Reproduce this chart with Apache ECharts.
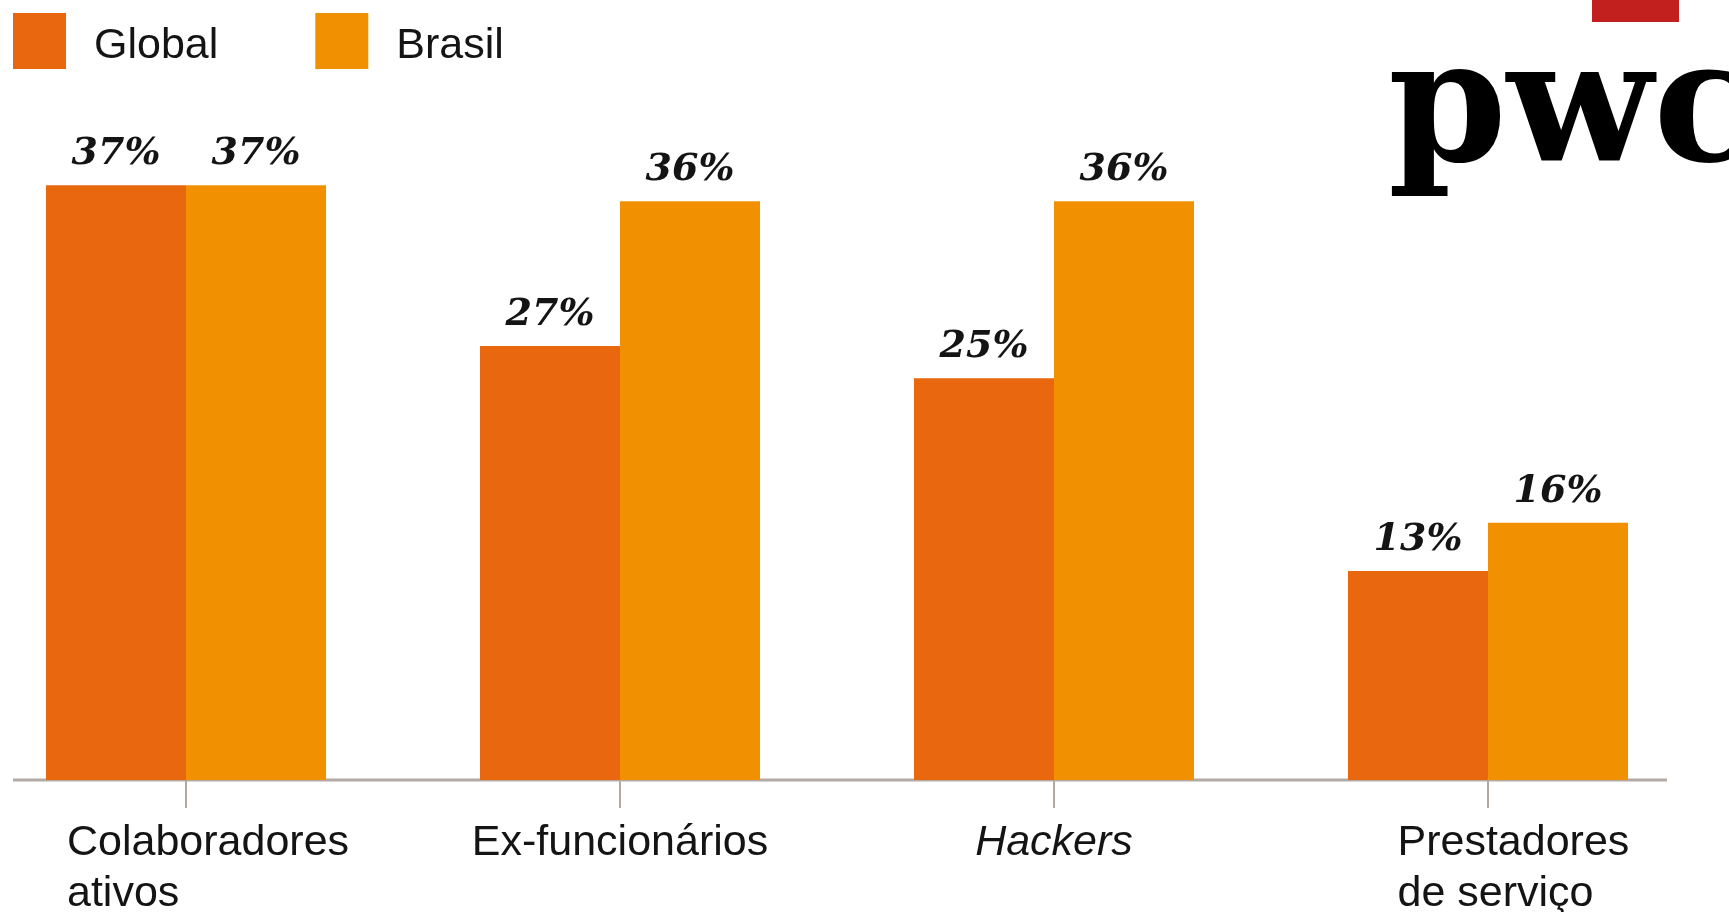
<!DOCTYPE html>
<html>
<head>
<meta charset="utf-8">
<script src="https://cdn.jsdelivr.net/npm/echarts@6/dist/echarts.min.js"></script>
<style>
  html, body { margin: 0; padding: 0; background: #fff; }
  #chart { width: 1729px; height: 912px; }
</style>
</head>
<body>
<div id="chart"></div>
<script>
// Who is behind the incidents: global vs Brazil (% of respondents)
const categories = ['Colaboradores\nativos', 'Ex-funcionários', 'Hackers', 'Prestadores\nde serviço'];
const globalValues = [37, 27, 25, 13];
const brasilValues = [37, 36, 36, 16];
const seriesNames = ['Global', 'Brasil'];

// rich-text style key per category label
const labelStyleKeys = ['c', 'n', 'h', 'p'];

const COLOR_GLOBAL = '#E9670E';
const COLOR_BRASIL = '#F19000';
const AXIS_GRAY = '#b3aaa3';
const TEXT_DARK = '#141414';

const chart = echarts.init(document.getElementById('chart'));

const valueLabel = {
  show: true,
  position: 'top',
  distance: 12,
  formatter: '{c}%',
  fontFamily: '"DejaVu Serif", serif',
  fontStyle: 'italic',
  fontWeight: 'bold',
  fontSize: 38,
  color: TEXT_DARK
};

const catFont = { fontSize: 43, lineHeight: 51, color: TEXT_DARK };

chart.setOption({
  animation: false,
  backgroundColor: '#ffffff',
  legend: {
    left: 13,
    top: 13,
    padding: 0,
    itemWidth: 53,
    itemHeight: 56,
    itemGap: 97,
    icon: 'rect',
    data: seriesNames,
    formatter: '{t|{name}}',
    textStyle: {
      fontFamily: '"Liberation Sans", Arial, sans-serif',
      fontSize: 43,
      color: TEXT_DARK,
      padding: [0, 0, 0, 23],
      rich: {
        t: {
          fontFamily: '"Liberation Sans", Arial, sans-serif',
          fontSize: 43,
          color: TEXT_DARK,
          padding: [10, 0, 0, 0]
        }
      }
    }
  },
  grid: {
    left: -31,
    right: 24,
    top: 137,
    bottom: 132,
    outerBoundsMode: 'none'
  },
  xAxis: {
    type: 'category',
    data: categories,
    axisLine: { show: false },
    axisTick: {
      show: true,
      alignWithLabel: true,
      length: 28,
      lineStyle: { color: AXIS_GRAY, width: 2 }
    },
    axisLabel: {
      margin: 38,
      interval: 0,
      fontFamily: '"Liberation Sans", Arial, sans-serif',
      fontSize: 43,
      lineHeight: 51,
      color: TEXT_DARK,
      formatter: function (value, idx) {
        const key = labelStyleKeys[idx];
        return value.split('\n').map(function (line) {
          return '{' + key + '|' + line + '}';
        }).join('\n');
      },
      rich: {
        c: Object.assign({ width: 290, align: 'left', padding: [0, 0, 0, 52] }, catFont),
        n: Object.assign({}, catFont),
        h: Object.assign({ fontStyle: 'italic' }, catFont),
        p: Object.assign({ width: 236, align: 'left', padding: [0, 0, 0, 55] }, catFont)
      }
    }
  },
  yAxis: {
    type: 'value',
    min: 0,
    max: 40,
    show: false,
    splitLine: { show: false }
  },
  series: [
    {
      name: seriesNames[0],
      type: 'bar',
      data: globalValues,
      barWidth: 140,
      barGap: '0%',
      itemStyle: { color: COLOR_GLOBAL },
      label: valueLabel
    },
    {
      name: seriesNames[1],
      type: 'bar',
      data: brasilValues,
      barWidth: 140,
      barGap: '0%',
      itemStyle: { color: COLOR_BRASIL },
      label: valueLabel
    }
  ],
  graphic: [
    // baseline under the bars
    {
      type: 'line',
      shape: { x1: 13, y1: 780, x2: 1667, y2: 780 },
      style: { stroke: AXIS_GRAY, lineWidth: 3 },
      z: 1
    },
    // brand mark
    {
      type: 'rect',
      shape: { x: 1592, y: 0, width: 87, height: 22 },
      style: { fill: '#C2201E' }
    },
    {
      type: 'text',
      x: 1388,
      y: 117,
      style: {
        text: 'pwc',
        font: 'bold 170px "DejaVu Serif", serif',
        fill: '#000000',
        verticalAlign: 'middle',
        align: 'left'
      }
    }
  ]
});
</script>
</body>
</html>
